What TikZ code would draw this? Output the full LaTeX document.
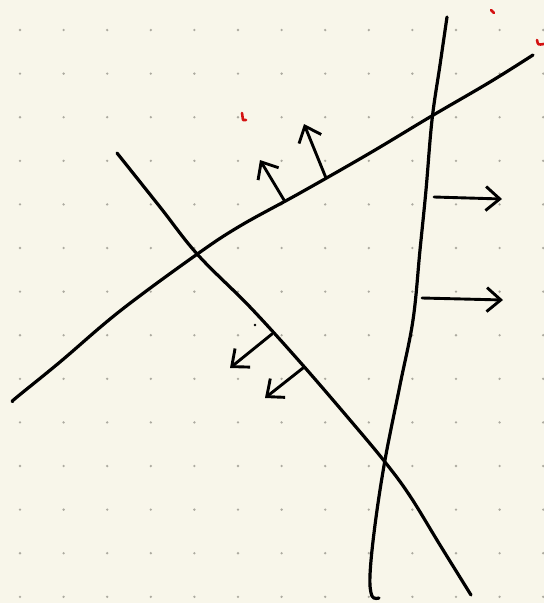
\documentclass[tikz,border=0pt]{standalone}
\usepackage{tikz}
\usetikzlibrary{arrows.meta}
\definecolor{paper}{RGB}{248,246,234}
\definecolor{dotgray}{RGB}{172,170,160}
\definecolor{inkred}{RGB}{212,18,18}

\begin{document}
\begin{tikzpicture}[x=1pt, y=-1pt, line cap=round, line join=round]
\tikzstyle{ink}=[line width=3.2pt, black]
\tikzstyle{normal}=[line width=2.9pt, -{Straight Barb[length=14pt, width=24pt, line width=2.9pt]}]
\tikzstyle{redmark}=[line width=2.6pt, inkred]
\fill[paper] (0,0) rectangle (544,603);
\useasboundingbox (0,0) rectangle (544,603);
% dot grid of the paper
\foreach \i in {0,...,12}
  \foreach \j in {0,...,13}
    \fill[dotgray] (20+43.6*\i, 30+43.6*\j) circle (1.3);
% the three lines
\draw[ink] plot[smooth, tension=0.6] coordinates {(13,401) (17,397) (60,362) (120,311) (196,255) (240,226) (300,193) (370,153) (430,117) (490,82) (533,55)};
\draw[ink] plot[smooth, tension=0.6] coordinates {(117,153) (160,207) (198,255) (250,307) (300,362) (350,420) (385,462) (410,496) (440,545) (471,595)};
\draw[ink] plot[smooth, tension=0.6] coordinates {(447,17) (440,65) (432,120) (426,190) (420,250) (413,320) (400,385) (385,460) (375,525) (370,575) (372,596) (379,598)};
% normals
\coordinate (a1) at (284,200); \coordinate (b1) at (260,160);
\coordinate (a2) at (326,178); \coordinate (b2) at (304,124);
\coordinate (a3) at (434,197); \coordinate (b3) at (502,199);
\coordinate (a4) at (422,298); \coordinate (b4) at (503,300);
\coordinate (a5) at (272,334); \coordinate (b5) at (230,368);
\coordinate (a6) at (303,368); \coordinate (b6) at (265,398);
\draw[normal] (a1) -- (b1);
\draw[normal] (a2) -- (b2);
\draw[normal] (a3) -- (b3);
\draw[normal] (a4) -- (b4);
\draw[normal] (a5) -- (b5);
\draw[normal] (a6) -- (b6);
\fill (255,325) circle (1.4);
% stray red marks
\draw[redmark] (242,113) -- (243,120) -- (246,120);
\draw[redmark] (491,10) -- (494,13);
\draw[redmark] (537,40) .. controls (538,45) .. (544,44);
\end{tikzpicture}
\end{document}
